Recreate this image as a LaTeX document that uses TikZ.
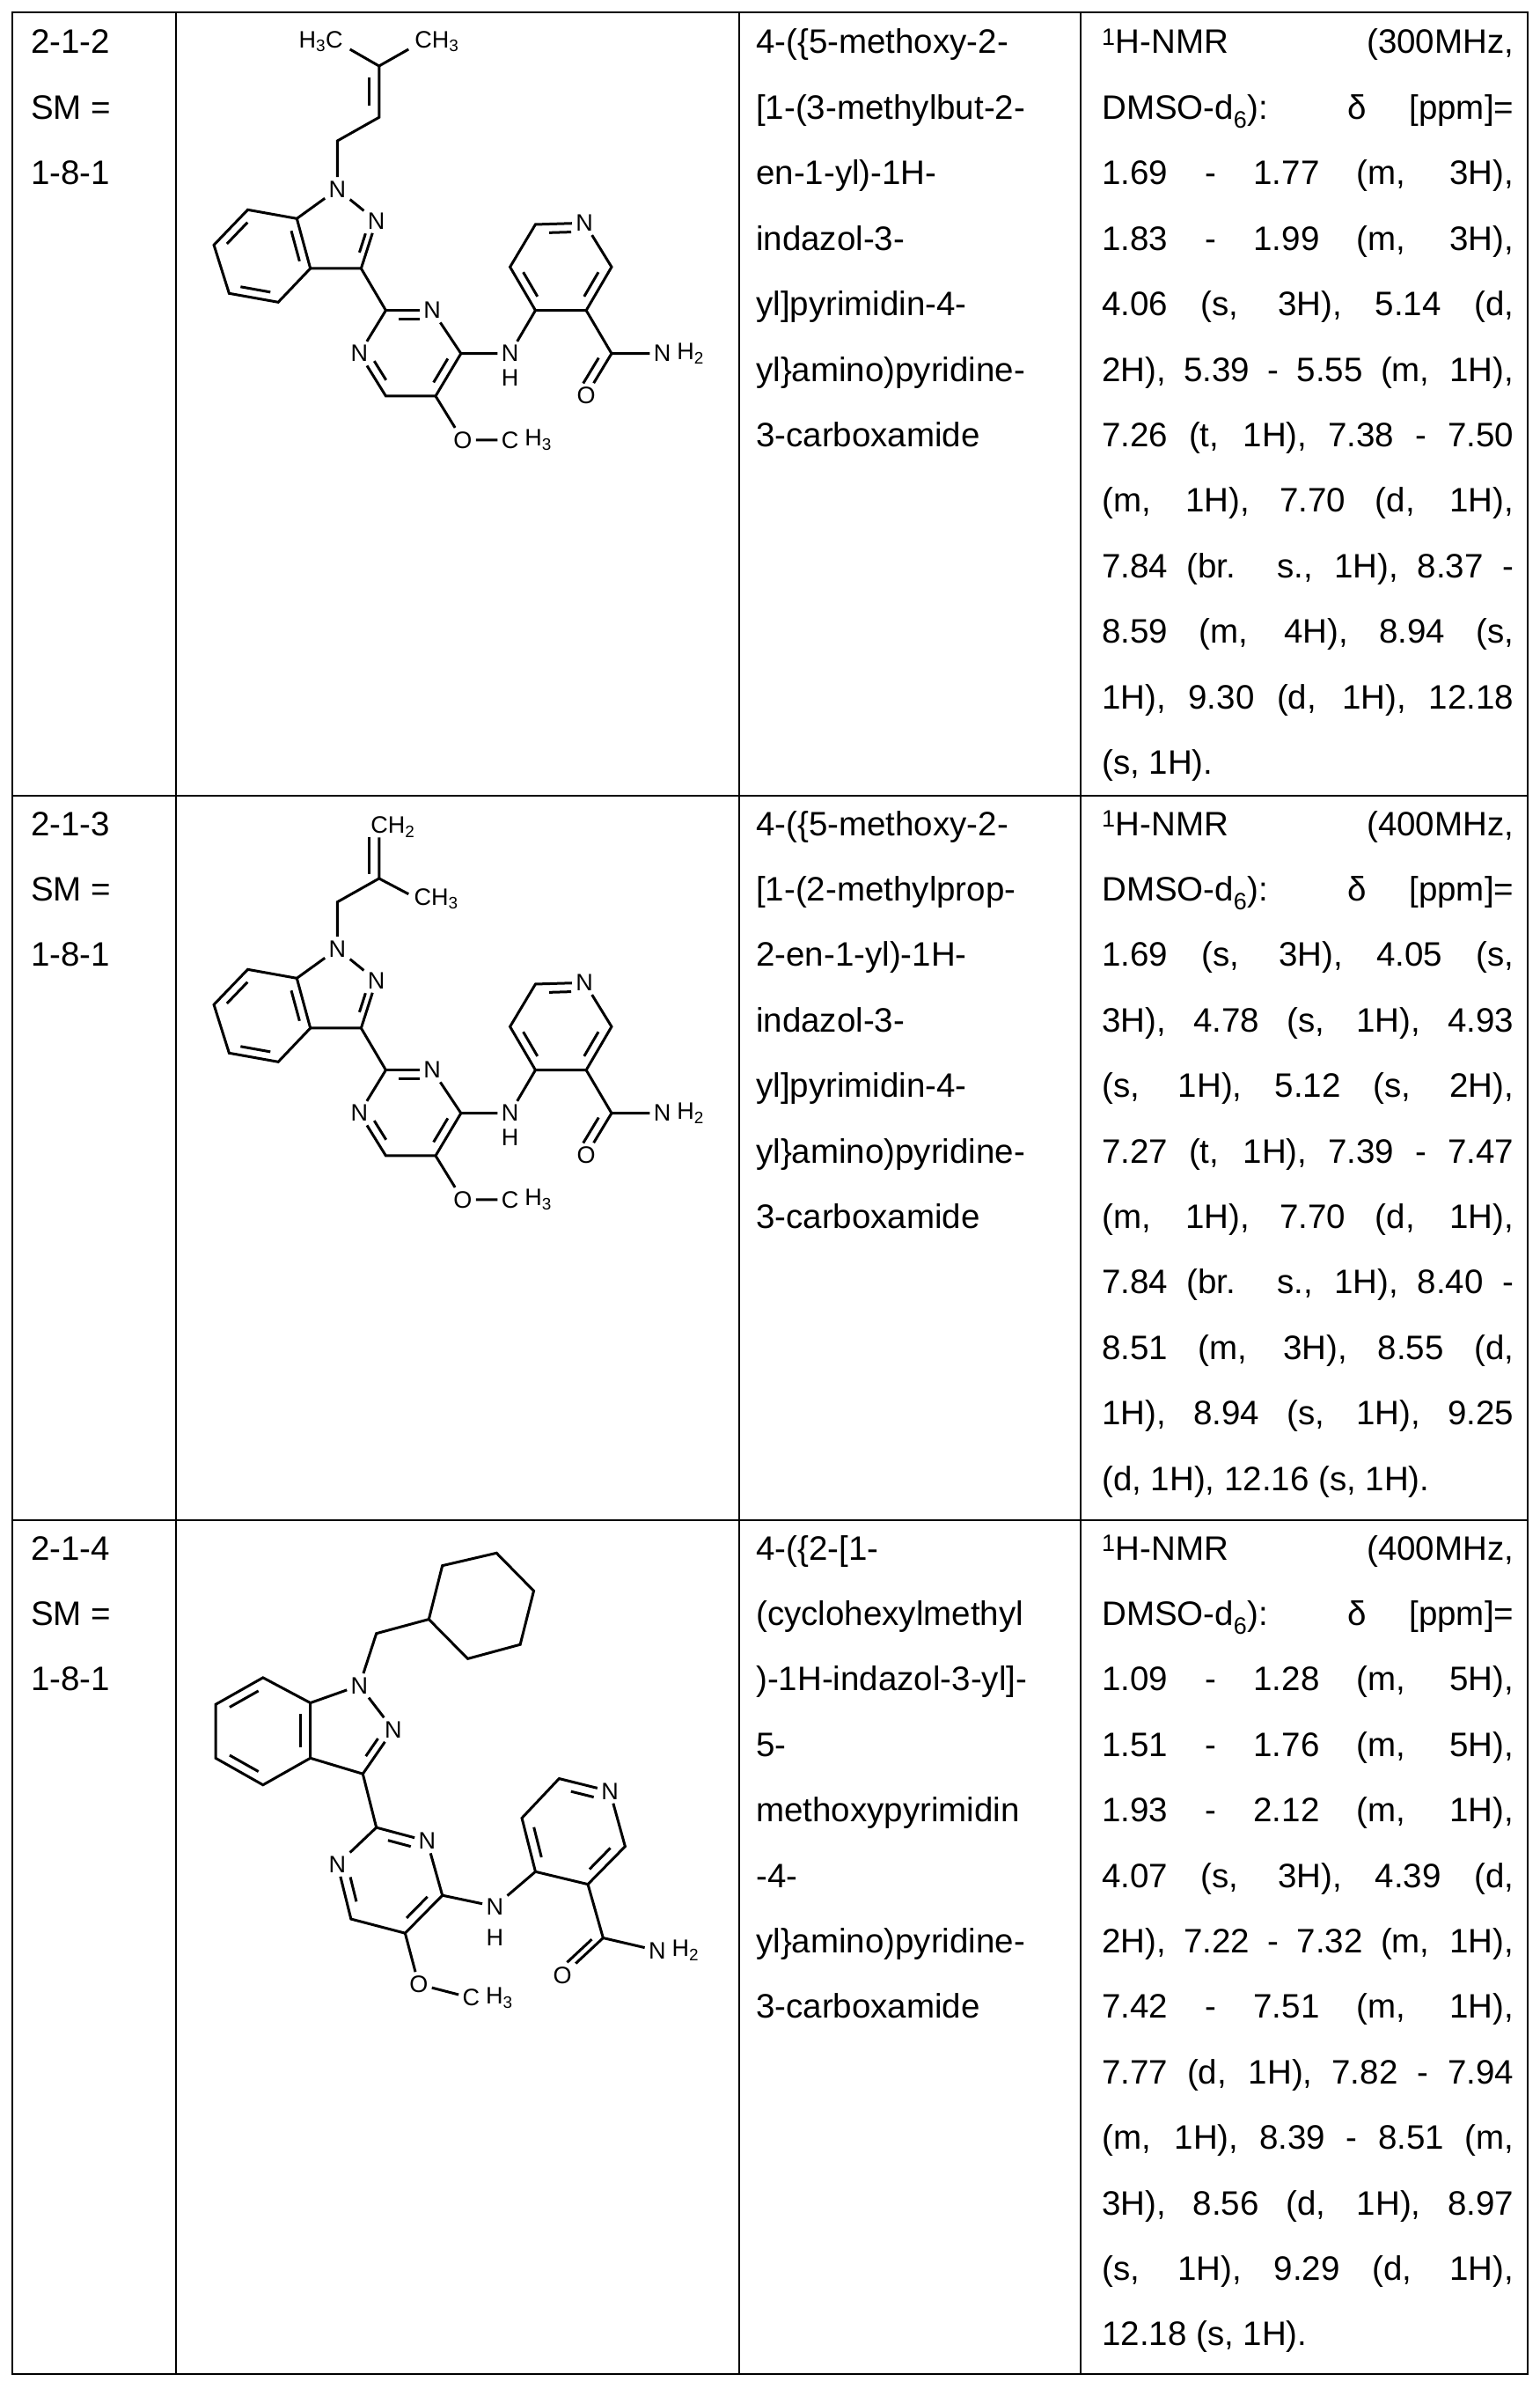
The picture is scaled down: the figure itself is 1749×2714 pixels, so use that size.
\documentclass[tikz,border=0pt]{standalone}
\usepackage{fontspec}
\setmainfont{Liberation Sans}
\usetikzlibrary{calc}
\newcommand\ib[4]{\draw ($(#1)!#4!(#2)!0.2!(#3)$) -- ($(#2)!#4!(#1)!0.2!(#3)$);}
\newcommand\tl[3]{\node[txt] at (#1,#2+14) {#3};}
\newcommand\jl[2]{\node[txt] at (1252,#1+14) {\makebox[468pt][s]{#2}};}
\newcommand\core{%
 \node[atom] (N1) at (425,585) {N};
 \node[atom] (N2) at (540,693) {N};
 \coordinate (c7a) at (305,685); \coordinate (c3a) at (345,855); \coordinate (c3) at (495,855);
 \coordinate (c7) at (160,655); \coordinate (c6) at (60,775); \coordinate (c5) at (105,940); \coordinate (c4) at (250,970);
 \coordinate (bz) at (204,813); \coordinate (pz) at (425,745);
 \coordinate (p2) at (568,998); \node[atom] (pN3) at (705,998) {N}; \coordinate (p4) at (790,1145);
 \coordinate (p5) at (715,1290); \coordinate (p6) at (568,1290); \node[atom] (pN1) at (490,1145) {N};
 \coordinate (pm) at (640,1145);
 \node[atom] (NH) at (935,1145) {N}; \node[atom] (Hh) at (935,1228) {H};
 \coordinate (q4) at (1010,998); \coordinate (q3) at (1160,998); \coordinate (q2) at (1235,850);
 \node[atom] (qN) at (1155,700) {N}; \coordinate (q6) at (1010,705); \coordinate (q5) at (935,850);
 \coordinate (py) at (1085,850);
 \coordinate (am) at (1235,1145); \node[atom] (NH2) at (1385,1145) {N};
 \node[sub,anchor=west] at ([xshift=1pt]NH2.east) {H\textsubscript{2}};
 \node[atom] (Ox) at (1160,1288) {O}; \coordinate (fk) at (1080,1150);
 \node[atom] (Om) at (795,1440) {O}; \node[atom] (Me) at (935,1440) {C};
 \node[sub,anchor=west] at ([xshift=1pt]Me.east) {H\textsubscript{3}};
 \draw (N1)--(c7a); \draw (N1)--(N2); \draw (N2)--(c3); \ib{N2}{c3}{pz}{0.25}
 \draw (c3)--(c3a)--(c7a); \ib{c3a}{c7a}{bz}{0.12}
 \draw (c7a)--(c7)--(c6)--(c5)--(c4)--(c3a); \ib{c7}{c6}{bz}{0.12} \ib{c5}{c4}{bz}{0.12}
 \draw (c3)--(p2); \draw (p2)--(pN3); \ib{p2}{pN3}{pm}{0.22}
 \draw (pN3)--(p4)--(p5)--(p6)--(pN1)--(p2); \ib{p4}{p5}{pm}{0.15} \ib{p6}{pN1}{pm}{0.22}
 \draw (p4)--(NH)--(q4);
 \draw (q4)--(q3)--(q2)--(qN)--(q6)--(q5)--(q4); \ib{q3}{q2}{py}{0.15} \ib{q6}{qN}{py}{0.22} \ib{q5}{q4}{py}{0.15}
 \draw (q3)--(am)--(NH2); \draw (am)--(Ox); \ib{am}{Ox}{fk}{0.12}
 \draw (p5)--(Om)--(Me);
}
\begin{document}
\begin{tikzpicture}[x=1pt,y=-1pt,
  txt/.style={anchor=base west,inner sep=0pt,font=\fontsize{38.5}{38.5}\selectfont},
  atom/.style={inner sep=3pt,font=\fontsize{27}{27}\selectfont},
  sub/.style={inner sep=0pt,font=\fontsize{27}{27}\selectfont},
  bond/.style={line width=3pt}]
\useasboundingbox (0,0) rectangle (1749,2714);
\fill[white] (0,0) rectangle (1749,2714);
% table
\begin{scope}[line width=2pt]
\draw (14,14) rectangle (1736,2697);
\foreach \xx in {200,840,1228} \draw (\xx,14) -- (\xx,2697);
\foreach \yy in {904,1727} \draw (14,\yy) -- (1736,\yy);
\end{scope}
% column 1
\foreach \yb in {47,935,1758}{
 \tl{35}{\yb}{2-1-\ifnum\yb=47 2\else\ifnum\yb=935 3\else 4\fi\fi}
 \tl{35}{\yb+74.4}{SM =}
 \tl{35}{\yb+148.8}{1-8-1}}
% column 3
\def\L{74.4}
\tl{859}{47}{4-(\{5-methoxy-2-}
\tl{859}{47+\L}{[1-(3-methylbut-2-}
\tl{859}{47+2*\L}{en-1-yl)-1H-}
\tl{859}{47+3*\L}{indazol-3-}
\tl{859}{47+4*\L}{yl]pyrimidin-4-}
\tl{859}{47+5*\L}{yl\}amino)pyridine-}
\tl{859}{47+6*\L}{3-carboxamide}
\tl{859}{935}{4-(\{5-methoxy-2-}
\tl{859}{935+\L}{[1-(2-methylprop-}
\tl{859}{935+2*\L}{2-en-1-yl)-1H-}
\tl{859}{935+3*\L}{indazol-3-}
\tl{859}{935+4*\L}{yl]pyrimidin-4-}
\tl{859}{935+5*\L}{yl\}amino)pyridine-}
\tl{859}{935+6*\L}{3-carboxamide}
\tl{859}{1758}{4-(\{2-[1-}
\tl{859}{1758+\L}{(cyclohexylmethyl}
\tl{859}{1758+2*\L}{)-1H-indazol-3-yl]-}
\tl{859}{1758+3*\L}{5-}
\tl{859}{1758+4*\L}{methoxypyrimidin}
\tl{859}{1758+5*\L}{-4-}
\tl{859}{1758+6*\L}{yl\}amino)pyridine-}
\tl{859}{1758+7*\L}{3-carboxamide}
% column 4 row 1
\jl{47}{\textsuperscript{1}H-NMR (300MHz,}
\jl{47+\L}{DMSO-d\textsubscript{6}): δ [ppm]=}
\jl{47+2*\L}{1.69 - 1.77 (m, 3H),}
\jl{47+3*\L}{1.83 - 1.99 (m, 3H),}
\jl{47+4*\L}{4.06 (s, 3H), 5.14 (d,}
\jl{47+5*\L}{2H), 5.39 - 5.55 (m, 1H),}
\jl{47+6*\L}{7.26 (t, 1H), 7.38 - 7.50}
\jl{47+7*\L}{(m, 1H), 7.70 (d, 1H),}
\jl{47+8*\L}{7.84 (br. s., 1H), 8.37 -}
\jl{47+9*\L}{8.59 (m, 4H), 8.94 (s,}
\jl{47+10*\L}{1H), 9.30 (d, 1H), 12.18}
\tl{1252}{47+11*\L}{(s, 1H).}
% row 2
\jl{935}{\textsuperscript{1}H-NMR (400MHz,}
\jl{935+\L}{DMSO-d\textsubscript{6}): δ [ppm]=}
\jl{935+2*\L}{1.69 (s, 3H), 4.05 (s,}
\jl{935+3*\L}{3H), 4.78 (s, 1H), 4.93}
\jl{935+4*\L}{(s, 1H), 5.12 (s, 2H),}
\jl{935+5*\L}{7.27 (t, 1H), 7.39 - 7.47}
\jl{935+6*\L}{(m, 1H), 7.70 (d, 1H),}
\jl{935+7*\L}{7.84 (br. s., 1H), 8.40 -}
\jl{935+8*\L}{8.51 (m, 3H), 8.55 (d,}
\jl{935+9*\L}{1H), 8.94 (s, 1H), 9.25}
\tl{1252}{935+10*\L}{(d, 1H), 12.16 (s, 1H).}
% row 3
\jl{1758}{\textsuperscript{1}H-NMR (400MHz,}
\jl{1758+\L}{DMSO-d\textsubscript{6}): δ [ppm]=}
\jl{1758+2*\L}{1.09 - 1.28 (m, 5H),}
\jl{1758+3*\L}{1.51 - 1.76 (m, 5H),}
\jl{1758+4*\L}{1.93 - 2.12 (m, 1H),}
\jl{1758+5*\L}{4.07 (s, 3H), 4.39 (d,}
\jl{1758+6*\L}{2H), 7.22 - 7.32 (m, 1H),}
\jl{1758+7*\L}{7.42 - 7.51 (m, 1H),}
\jl{1758+8*\L}{7.77 (d, 1H), 7.82 - 7.94}
\jl{1758+9*\L}{(m, 1H), 8.39 - 8.51 (m,}
\jl{1758+10*\L}{3H), 8.56 (d, 1H), 8.97}
\jl{1758+11*\L}{(s, 1H), 9.29 (d, 1H),}
\tl{1252}{1758+12*\L}{12.18 (s, 1H).}
% molecule 1
\begin{scope}[shift={(220,20)},x={(0.3846pt,0)},y={(0,-0.3333pt)},line width=3pt]
\core
\node[sub,anchor=east] at (445,82) {H\textsubscript{3}C};
\node[sub,anchor=west] at (650,82) {CH\textsubscript{3}};
\coordinate (m1) at (462,108); \coordinate (m2) at (635,108);
\coordinate (b) at (548,165); \coordinate (c) at (548,340); \coordinate (d) at (425,420);
\coordinate (fb) at (408,252);
\draw (m1)--(b)--(m2); \draw (b)--(c)--(d)--(N1); \ib{b}{c}{fb}{0.15}
\end{scope}
% molecule 2
\begin{scope}[shift={(220,883)},x={(0.3846pt,0)},y={(0,-0.3333pt)},line width=3pt]
\core
\node[sub,anchor=west] at (520,170) {CH\textsubscript{2}};
\node[sub,anchor=west] at (648,415) {CH\textsubscript{3}};
\coordinate (t) at (548,205); \coordinate (b) at (548,345); \coordinate (m2) at (635,398);
\coordinate (d) at (425,425);
\draw (t)--(b)--(m2); \draw (b)--(d)--(N1);
\draw (518,205)--(518,330);
\end{scope}
% molecule 3
\begin{scope}[shift={(220,1741)},x={(0.3846pt,0)},y={(0,-0.3584pt)},line width=3pt]
\coordinate (h1) at (695,275); \coordinate (h2) at (735,105); \coordinate (h3) at (895,65);
\coordinate (h4) at (1005,185); \coordinate (h5) at (965,355); \coordinate (h6) at (810,400);
\coordinate (d) at (540,320);
\node[atom] (N1) at (490,485) {N};
\node[atom] (N2) at (590,625) {N};
\coordinate (c7a) at (345,540); \coordinate (c3a) at (345,715); \coordinate (c3) at (500,765);
\coordinate (c7) at (205,460); \coordinate (c6) at (65,545); \coordinate (c5) at (65,715); \coordinate (c4) at (205,800);
\coordinate (bz) at (205,629); \coordinate (pz) at (454,625);
\coordinate (p2) at (540,935); \node[atom] (pN3) at (690,978) {N}; \coordinate (p4) at (735,1150);
\coordinate (p5) at (625,1270); \coordinate (p6) at (465,1225); \node[atom] (pN1) at (425,1052) {N};
\coordinate (pm) at (580,1101);
\node[atom] (NH) at (890,1185) {N}; \node[atom] (Hh) at (890,1285) {H};
\coordinate (q4) at (1010,1075); \coordinate (q3) at (1165,1115); \coordinate (q2) at (1275,995);
\node[atom] (qN) at (1230,820) {N}; \coordinate (q6) at (1080,780); \coordinate (q5) at (970,905);
\coordinate (py) at (1123,948);
\coordinate (am) at (1210,1285); \node[atom] (NH2) at (1370,1325) {N};
\node[sub,anchor=west] at ([xshift=1pt]NH2.east) {H\textsubscript{2}};
\node[atom] (Ox) at (1090,1405) {O}; \coordinate (fk) at (1100,1250);
\node[atom] (Om) at (665,1432) {O}; \node[atom] (Me) at (820,1475) {C};
\node[sub,anchor=west] at ([xshift=1pt]Me.east) {H\textsubscript{3}};
\draw (h1)--(h2)--(h3)--(h4)--(h5)--(h6)--(h1);
\draw (h1)--(d)--(N1);
\draw (N1)--(c7a); \draw (N1)--(N2); \draw (N2)--(c3); \ib{N2}{c3}{pz}{0.25}
\draw (c3)--(c3a)--(c7a); \ib{c3a}{c7a}{bz}{0.12}
\draw (c7a)--(c7)--(c6)--(c5)--(c4)--(c3a); \ib{c7}{c6}{bz}{0.12} \ib{c5}{c4}{bz}{0.12}
\draw (c3)--(p2); \draw (p2)--(pN3); \ib{p2}{pN3}{pm}{0.22}
\draw (pN3)--(p4)--(p5)--(p6)--(pN1)--(p2); \ib{p4}{p5}{pm}{0.15} \ib{p6}{pN1}{pm}{0.22}
\draw (p4)--(NH)--(q4);
\draw (q4)--(q3)--(q2)--(qN)--(q6)--(q5)--(q4); \ib{q3}{q2}{py}{0.15} \ib{q6}{qN}{py}{0.22} \ib{q5}{q4}{py}{0.15}
\draw (q3)--(am)--(NH2); \draw (am)--(Ox); \ib{am}{Ox}{fk}{0.12}
\draw (p5)--(Om)--(Me);
\end{scope}
\end{tikzpicture}
\end{document}
